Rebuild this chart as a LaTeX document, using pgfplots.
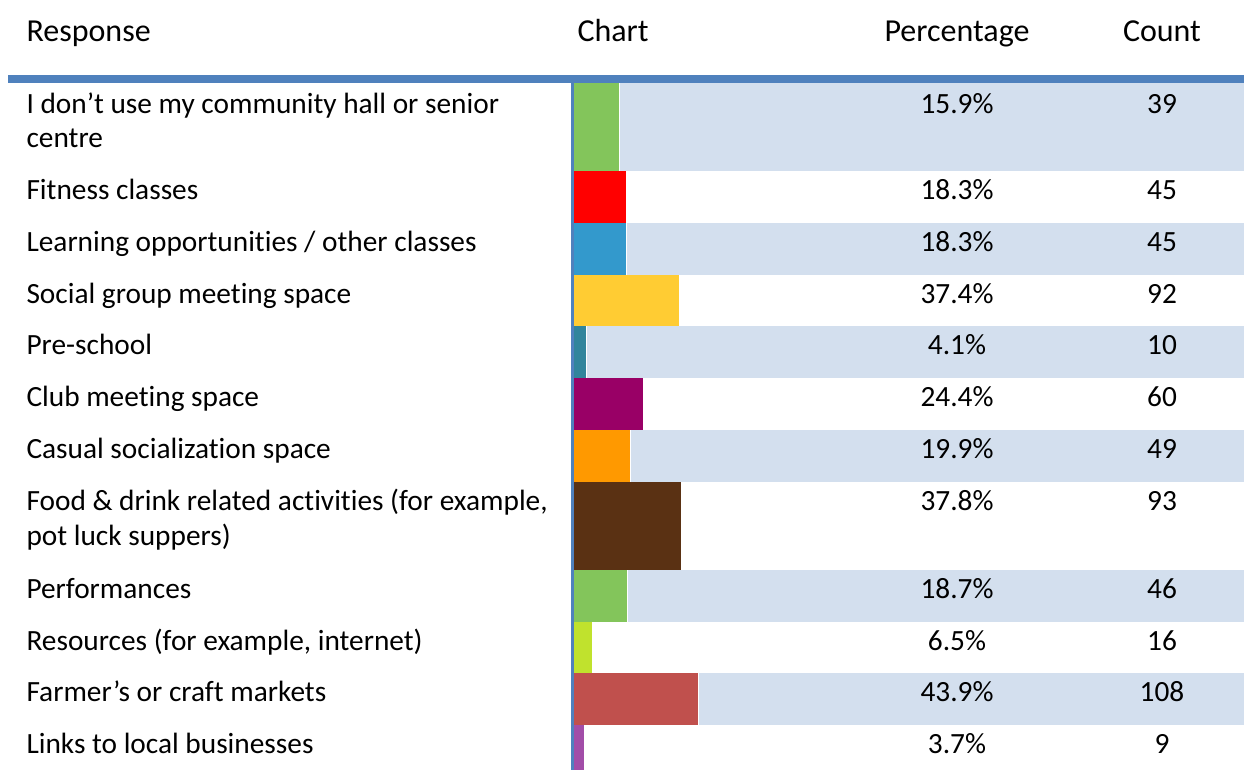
\documentclass[border=0pt]{standalone}
\usepackage{fontspec}
\setmainfont{Carlito}[Ligatures={NoCommon}]
\usepackage{pgfplots}
\pgfplotsset{compat=1.18}
\definecolor{bandc}{HTML}{D3DFEE}
\definecolor{rulec}{HTML}{4F81BD}
\definecolor{cA}{HTML}{83C55B}
\definecolor{cB}{HTML}{FF0000}
\definecolor{cC}{HTML}{3399CC}
\definecolor{cD}{HTML}{FFCC33}
\definecolor{cE}{HTML}{31859C}
\definecolor{cF}{HTML}{990066}
\definecolor{cG}{HTML}{FF9900}
\definecolor{cH}{HTML}{5A3113}
\definecolor{cI}{HTML}{C0E22D}
\definecolor{cJ}{HTML}{C0504D}
\definecolor{cK}{HTML}{A24DA8}
\tikzset{
  txt/.style={anchor=base west, inner sep=0pt},
  num/.style={anchor=base, inner sep=0pt},
  hdr/.style={font=\fontsize{12pt}{14pt}\selectfont},
}
\begin{document}
\fontsize{11pt}{13.2pt}\selectfont
\begin{tikzpicture}
\path[use as bounding box] (0,0) rectangle (466.5pt,288.75pt);
\begin{axis}[
  at={(0,0)}, anchor=south west,
  scale only axis, width=466.5pt, height=288.75pt,
  hide axis, clip mode=individual,
  xmin=-203.546, xmax=237.589, ymin=0, ymax=770, y dir=reverse,
  every axis plot/.append style={xbar, draw=none, bar width=51.8, bar shift=0pt},
]
% shaded bands (odd rows), starting just right of each bar
\fill[bandc] (axis cs:16.25,83) rectangle (axis cs:237.589,171);
\fill[bandc] (axis cs:18.65,222.8) rectangle (axis cs:237.589,274.6);
\fill[bandc] (axis cs:4.45,326.4) rectangle (axis cs:237.589,378.2);
\fill[bandc] (axis cs:20.25,430) rectangle (axis cs:237.589,481.8);
\fill[bandc] (axis cs:19.05,569.8) rectangle (axis cs:237.589,621.6);
\fill[bandc] (axis cs:44.25,673.4) rectangle (axis cs:237.589,725.2);
% bars
\addplot[fill=cA, bar width=88] coordinates {(15.9,127)};
\addplot[fill=cB] coordinates {(18.3,196.9)};
\addplot[fill=cC] coordinates {(18.3,248.7)};
\addplot[fill=cD] coordinates {(37.4,300.5)};
\addplot[fill=cE] coordinates {(4.1,352.3)};
\addplot[fill=cF] coordinates {(24.4,404.1)};
\addplot[fill=cG] coordinates {(19.9,455.9)};
\addplot[fill=cH, bar width=88] coordinates {(37.8,525.8)};
\addplot[fill=cA] coordinates {(18.7,595.7)};
\addplot[fill=cI] coordinates {(6.5,647.5)};
\addplot[fill=cJ] coordinates {(43.9,699.3)};
\addplot[fill=cK] coordinates {(3.7,751.1)};
% rules
\fill[rulec] (axis cs:-200.71,75) rectangle (axis cs:237.589,83);
\fill[rulec] (axis cs:-1.064,83) rectangle (axis cs:0,770);
% header
\node[txt,hdr] at (axis cs:-194.33,42) {Response};
\node[txt,hdr] at (axis cs:1.06,42) {Chart};
\node[num,hdr] at (axis cs:135.82,42) {Percentage};
\node[num,hdr] at (axis cs:208.51,42) {Count};
% row labels
\node[txt] at (axis cs:-194.33,113.5) {I don’t use my community hall or senior};
\node[txt] at (axis cs:-194.33,148) {centre};
\node[txt] at (axis cs:-194.33,199.5) {Fitness classes};
\node[txt] at (axis cs:-194.33,251.3) {Learning opportunities / other classes};
\node[txt] at (axis cs:-194.33,303.1) {Social group meeting space};
\node[txt] at (axis cs:-194.33,354.9) {Pre-school};
\node[txt] at (axis cs:-194.33,406.7) {Club meeting space};
\node[txt] at (axis cs:-194.33,458.5) {Casual socialization space};
\node[txt] at (axis cs:-194.33,510) {Food \& drink related activities (for example,};
\node[txt] at (axis cs:-194.33,545) {pot luck suppers)};
\node[txt] at (axis cs:-194.33,598.3) {Performances};
\node[txt] at (axis cs:-194.33,650.1) {Resources (for example, internet)};
\node[txt] at (axis cs:-194.33,701.9) {Farmer’s or craft markets};
\node[txt] at (axis cs:-194.33,753.7) {Links to local businesses};
% percentages and counts
\node[num] at (axis cs:135.82,113.5) {15.9\%}; \node[num] at (axis cs:208.51,113.5) {39};
\node[num] at (axis cs:135.82,199.5) {18.3\%}; \node[num] at (axis cs:208.51,199.5) {45};
\node[num] at (axis cs:135.82,251.3) {18.3\%}; \node[num] at (axis cs:208.51,251.3) {45};
\node[num] at (axis cs:135.82,303.1) {37.4\%}; \node[num] at (axis cs:208.51,303.1) {92};
\node[num] at (axis cs:135.82,354.9) {4.1\%};  \node[num] at (axis cs:208.51,354.9) {10};
\node[num] at (axis cs:135.82,406.7) {24.4\%}; \node[num] at (axis cs:208.51,406.7) {60};
\node[num] at (axis cs:135.82,458.5) {19.9\%}; \node[num] at (axis cs:208.51,458.5) {49};
\node[num] at (axis cs:135.82,510) {37.8\%};   \node[num] at (axis cs:208.51,510) {93};
\node[num] at (axis cs:135.82,598.3) {18.7\%}; \node[num] at (axis cs:208.51,598.3) {46};
\node[num] at (axis cs:135.82,650.1) {6.5\%};  \node[num] at (axis cs:208.51,650.1) {16};
\node[num] at (axis cs:135.82,701.9) {43.9\%}; \node[num] at (axis cs:208.51,701.9) {108};
\node[num] at (axis cs:135.82,753.7) {3.7\%};  \node[num] at (axis cs:208.51,753.7) {9};
\end{axis}
\end{tikzpicture}
\end{document}
